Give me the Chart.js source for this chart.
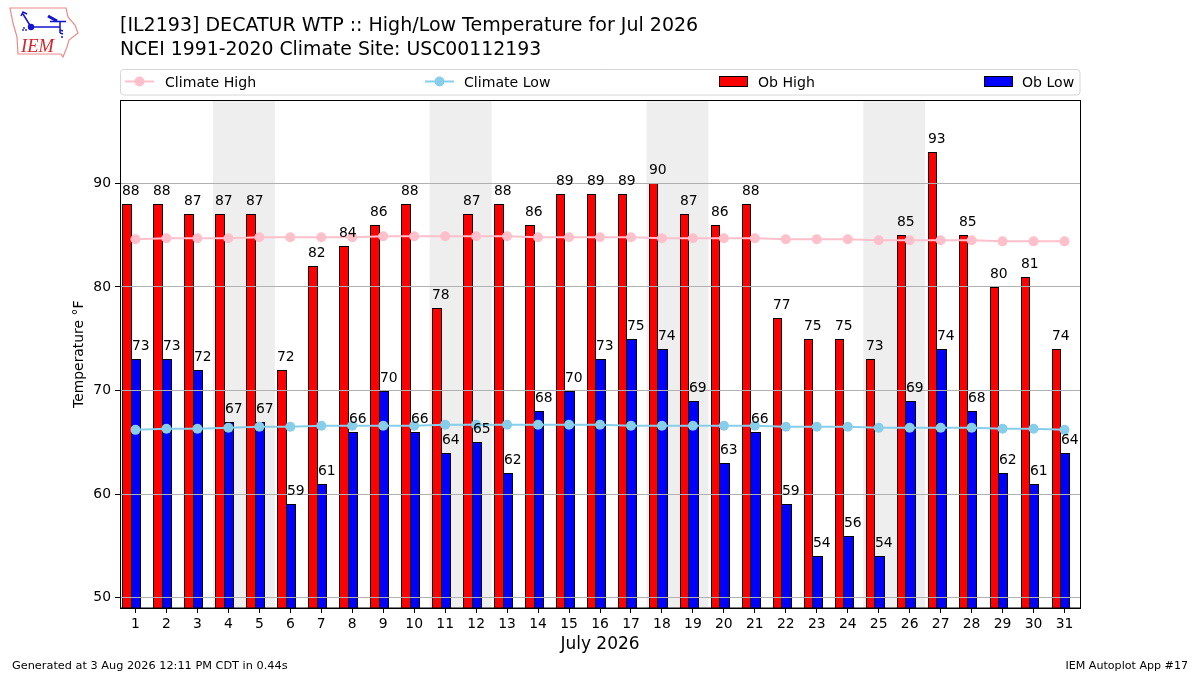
<!DOCTYPE html>
<html>
<head>
<meta charset="utf-8">
<title>DECATUR WTP High/Low Temperature</title>
<script src="https://cdn.jsdelivr.net/npm/chart.js@4"></script>
<style>
  html, body { margin: 0; padding: 0; background: #fff; }
  #wrap { position: relative; width: 1200px; height: 675px; overflow: hidden; }
  #grafica { position: absolute; left: 0; top: 0; }
  #logo { position: absolute; left: 0; top: 0; }
</style>
</head>
<body>
<div id="wrap">
  <canvas id="grafica" width="1200" height="675"></canvas>
  <svg id="logo" width="90" height="62" viewBox="0 0 90 62">
    <path d="M10 8 L66 8 L68 17 L75 25 L78 33 L69 40 L67 47 L63 57 L61 54 L18 54 L17 37 L13 23 Z" fill="#fff" stroke="#ec8a8a" stroke-width="1.2"/>
    <g stroke="#1414d2" fill="none" stroke-width="1.5">
      <path d="M31 27 L60 27 M31 27 L23 14 M21 16 L23 12 L27 14 M50 21.5 L66 21.5 M60 21.5 L60 33 M60 30 L63 31 M60 33 L63 34"/>
      <path d="M48 16 L57 21" stroke-width="3"/>
    </g>
    <circle cx="31" cy="27" r="3.2" fill="#1414d2"/>
    <circle cx="24" cy="28" r="0.9" fill="#1414d2"/>
    <circle cx="23" cy="30" r="0.9" fill="#1414d2"/>
    <circle cx="26" cy="30" r="0.9" fill="#1414d2"/>
    <circle cx="62" cy="37" r="1" fill="#1414d2"/>
    <text x="21" y="52" font-family="Liberation Serif" font-style="italic" font-size="18.5" fill="#d8232a">IEM</text>
  </svg>
</div>
<script>
const dias = [1,2,3,4,5,6,7,8,9,10,11,12,13,14,15,16,17,18,19,20,21,22,23,24,25,26,27,28,29,30,31]
const obHigh = [88,88,87,87,87,72,82,84,86,88,78,87,88,86,89,89,89,90,87,86,88,77,75,75,73,85,93,85,80,81,74]
const obLow = [73,73,72,67,67,59,61,66,70,66,64,65,62,68,70,73,75,74,69,63,66,59,54,56,54,69,74,68,62,61,64]
const climateHigh = [84.6,84.7,84.7,84.7,84.8,84.8,84.8,84.8,84.9,84.9,84.9,84.9,84.9,84.8,84.8,84.8,84.8,84.7,84.7,84.7,84.7,84.6,84.6,84.6,84.5,84.5,84.5,84.5,84.4,84.4,84.4]
const climateLow = [66.2,66.3,66.3,66.4,66.5,66.5,66.6,66.6,66.6,66.6,66.7,66.7,66.7,66.7,66.7,66.7,66.6,66.6,66.6,66.6,66.6,66.5,66.5,66.5,66.4,66.4,66.4,66.4,66.3,66.3,66.2]
const yTicks = [50,60,70,80,90]
const finesDeSemana = [[3.5,5.5],[10.5,12.5],[17.5,19.5],[24.5,26.5]]

const titulos = ['[IL2193] DECATUR WTP :: High/Low Temperature for Jul 2026', 'NCEI 1991-2020 Climate Site: USC00112193']
const pieIzq = 'Generated at 3 Aug 2026 12:11 PM CDT in 0.44s'
const pieDer = 'IEM Autoplot App #17'

const FUENTE = '"DejaVu Sans"'
// the bars sit a little left of the day tick in the original
const corrimiento = -0.115

// snap bars to whole pixels so the black edges stay crisp
const ajuste = {
  id: 'ajuste',
  afterDatasetsUpdate(chart) {
    chart.data.datasets.forEach((ds, i) => {
      if (ds.type !== 'bar') return
      chart.getDatasetMeta(i).data.forEach((el) => {
        const izq = Math.round(el.x - el.width / 2)
        const der = Math.round(el.x + el.width / 2)
        el.x = (izq + der) / 2
        el.width = der - izq
        el.y = Math.round(el.y)
      })
    })
  }
}

// grey bands behind the bars
const bandas = {
  id: 'bandas',
  beforeDatasetsDraw(chart) {
    const { ctx, chartArea, scales } = chart
    ctx.save()
    ctx.fillStyle = '#eeeeee'
    finesDeSemana.forEach(([a, b]) => {
      const x0 = scales.x.getPixelForValue(a)
      const x1 = scales.x.getPixelForValue(b)
      ctx.fillRect(x0, chartArea.top, x1 - x0, chartArea.bottom - chartArea.top)
    })
    ctx.restore()
  }
}

// value labels, frame, titles, legend and footer
const adornos = {
  id: 'adornos',
  afterDraw(chart) {
    const { ctx, chartArea } = chart
    ctx.save()

    ctx.fillStyle = '#000'
    ctx.font = '13.9px ' + FUENTE
    ctx.textAlign = 'left'
    ctx.textBaseline = 'alphabetic'
    chart.data.datasets.forEach((ds, i) => {
      if (ds.type !== 'bar') return
      chart.getDatasetMeta(i).data.forEach((el, j) => {
        ctx.fillText(ds.data[j].y, el.x - el.width / 2, el.y - 9)
      })
    })

    ctx.strokeStyle = '#000'
    ctx.lineWidth = 1
    ctx.strokeRect(chartArea.left + 0.5, chartArea.top, chartArea.right - chartArea.left, chartArea.bottom - chartArea.top)

    ctx.font = '19.03px ' + FUENTE
    ctx.fillText(titulos[0], 120, 31)
    ctx.font = '18.85px ' + FUENTE
    ctx.fillText(titulos[1], 120, 55)

    // legend box
    ctx.beginPath()
    ctx.roundRect(120.5, 69.5, 959.5, 25.5, 3)
    ctx.fillStyle = '#fff'
    ctx.fill()
    ctx.strokeStyle = '#d6d6d6'
    ctx.stroke()

    const entradas = [[0, 125, 165], [1, 425, 464], [2, 719, 758], [3, 984, 1022]]
    ctx.font = '14.1px ' + FUENTE
    entradas.forEach(([i, xMarca, xTexto]) => {
      const ds = chart.data.datasets[i]
      if (ds.type === 'bar') {
        ctx.fillStyle = ds.backgroundColor
        ctx.fillRect(xMarca, 76.5, 28, 10)
        ctx.strokeStyle = '#000'
        ctx.strokeRect(xMarca + 0.5, 76.5, 28, 10)
      } else {
        ctx.strokeStyle = ds.borderColor
        ctx.lineWidth = 2
        ctx.beginPath()
        ctx.moveTo(xMarca, 81.5)
        ctx.lineTo(xMarca + 29, 81.5)
        ctx.stroke()
        ctx.fillStyle = ds.borderColor
        ctx.beginPath()
        ctx.arc(xMarca + 14.5, 81.5, 5, 0, Math.PI * 2)
        ctx.fill()
        ctx.lineWidth = 1
      }
      ctx.fillStyle = '#000'
      ctx.fillText(ds.label, xTexto, 86.5)
    })

    ctx.font = '11.3px ' + FUENTE
    ctx.fillText(pieIzq, 12, 669)
    ctx.font = '11.1px ' + FUENTE
    ctx.textAlign = 'right'
    ctx.fillText(pieDer, 1188, 669)
    ctx.restore()
  }
}

const puntos = (xs, ys) => xs.map((d, i) => ({ x: d, y: ys[i] }))
const puntosBarra = (ys) => dias.map((d, i) => ({ x: d + corrimiento, y: ys[i] }))

const lineaClima = (label, color, valores) => ({
  type: 'line',
  label,
  data: puntos(dias, valores),
  borderColor: color,
  backgroundColor: color,
  borderWidth: 2,
  pointRadius: 5,
  pointBorderWidth: 0,
  tension: 0
})

const barra = (label, color, valores, saltarBorde) => ({
  type: 'bar',
  label,
  data: puntosBarra(valores),
  backgroundColor: color,
  borderColor: '#000',
  borderWidth: 1,
  borderSkipped: saltarBorde,
  inflateAmount: 0,
  categoryPercentage: 0.61,
  barPercentage: 1
})

const myChart = new Chart(document.getElementById('grafica'), {
  data: {
    datasets: [
      lineaClima('Climate High', '#ffc0cb', climateHigh),
      lineaClima('Climate Low', '#87ceeb', climateLow),
      barra('Ob High', '#ff0000', obHigh, 'start'),
      barra('Ob Low', '#0000ff', obLow, 'left')
    ]
  },
  options: {
    responsive: false,
    animation: false,
    devicePixelRatio: 1,
    layout: { padding: { left: 70.7, top: 100.5, right: 120, bottom: 20.5 } },
    plugins: {
      legend: { display: false },
      title: { display: false },
      tooltip: { enabled: false }
    },
    scales: {
      x: {
        type: 'linear',
        min: 0.5,
        max: 31.5,
        offset: false,
        afterBuildTicks: (eje) => { eje.ticks = dias.map((d) => ({ value: d })) },
        afterFit: (eje) => { eje.height = 46.5 },
        grid: { offset: false, drawOnChartArea: false, tickColor: '#000', tickLength: 5 },
        border: { color: '#000' },
        ticks: {
          autoSkip: false,
          maxRotation: 0,
          padding: 3,
          color: '#000',
          font: { family: FUENTE, size: 13.9 },
          callback: (v) => v
        },
        title: {
          display: true,
          text: 'July 2026',
          color: '#000',
          padding: 0,
          font: { family: FUENTE, size: 17 }
        }
      },
      y: {
        min: 49,
        max: 98,
        afterBuildTicks: (eje) => { eje.ticks = yTicks.map((v) => ({ value: v })) },
        afterFit: (eje) => { eje.width = 49.3 },
        grid: { color: '#b0b0b0', tickColor: '#000', tickLength: 5, z: 1 },
        // the frame comes from the plugin, a y border here lands at x=0 when the grid is on top
        border: { display: false },
        ticks: {
          padding: 4,
          color: '#000',
          font: { family: FUENTE, size: 13.9 },
          callback: (v) => v
        },
        title: {
          display: true,
          text: 'Temperature °F',
          color: '#000',
          padding: 0,
          font: { family: FUENTE, size: 13.9 }
        }
      }
    }
  },
  plugins: [ajuste, bandas, adornos]
})
</script>
</body>
</html>
